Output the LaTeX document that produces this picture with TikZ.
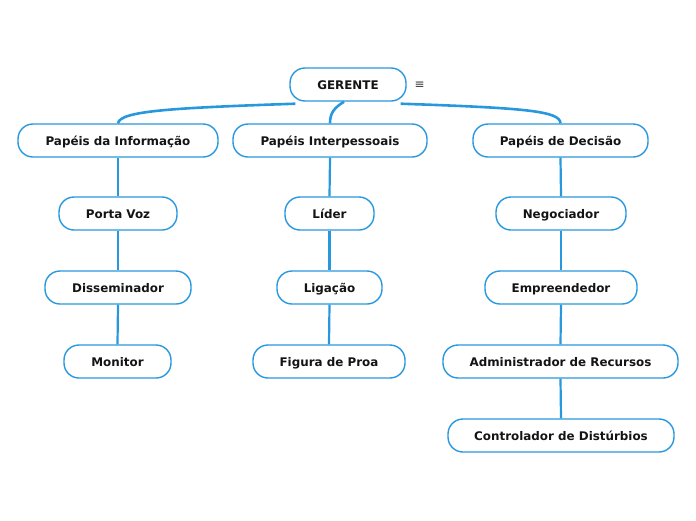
\documentclass[tikz,border=0pt]{standalone}
\usepackage{fontspec}
\setmainfont{DejaVu Sans}
\definecolor{mapblue}{RGB}{40,152,222}
\definecolor{inkcol}{RGB}{20,20,20}
\tikzset{
  topic/.style={draw=mapblue, line width=1.4pt, rounded corners=15pt,
    minimum height=33pt, inner sep=0pt, text=inkcol,
    text height=10pt, text depth=0pt,
    font=\fontsize{11.9}{14}\selectfont\bfseries},
  link/.style={mapblue, line width=2.2pt},
  trunk/.style={mapblue, line width=2.6pt}
}

\begin{document}
\begin{tikzpicture}[x=1pt, y=-1pt]

  \useasboundingbox (0,0) rectangle (696,520);

  % --- central topic ------------------------------------------------------
  \node[topic, minimum width=116pt] (gerente) at (348,84.5) {GERENTE};
  \node[text=inkcol!85, font=\fontsize{12}{14}\selectfont, anchor=west] (menu) at (411,85.5) {≡};

  % --- main branches ------------------------------------------------------
  \node[topic, minimum width=200pt] (info)   at (118,140.5) {Papéis da Informação};
  \node[topic, minimum width=194pt] (inter)  at (330,140.5) {Papéis Interpessoais};
  \node[topic, minimum width=175pt] (decis)  at (560.5,140.5) {Papéis de Decisão};

  % --- papéis da informação ----------------------------------------------
  \node[topic, minimum width=118pt] (porta)  at (118,213.5) {Porta Voz};
  \node[topic, minimum width=146pt] (dissem) at (118,287.5) {Disseminador};
  \node[topic, minimum width=107pt] (monit)  at (117.5,361.5) {Monitor};

  % --- papéis interpessoais ----------------------------------------------
  \node[topic, minimum width=89pt]  (lider)  at (329.5,213.5) {Líder};
  \node[topic, minimum width=105pt] (ligac)  at (329.5,287.5) {Ligação};
  \node[topic, minimum width=152pt] (figura) at (329,361.5) {Figura de Proa};

  % --- papéis de decisão -------------------------------------------------
  \node[topic, minimum width=130pt] (negoc)  at (561,213.5) {Negociador};
  \node[topic, minimum width=152pt] (empre)  at (561,287.5) {Empreendedor};
  \node[topic, minimum width=235pt] (admin)  at (560.5,361.5) {Administrador de Recursos};
  \node[topic, minimum width=226pt] (contr)  at (561,435.5) {Controlador de Distúrbios};

  % --- curved links from the central topic -------------------------------
  \draw[trunk] ([xshift=6pt,yshift=-2pt]gerente.south west)
    .. controls (170,108) and (120,111) .. (info.north);
  \draw[trunk] ([xshift=-4pt]gerente.south)
    .. controls (334,108) and (330,113) .. (inter.north);
  \draw[trunk] ([xshift=-6pt,yshift=-2pt]gerente.south east)
    .. controls (526,108) and (560,111) .. (decis.north);

  % --- straight links down each branch -----------------------------------
  \foreach \a/\b in {info/porta, porta/dissem, dissem/monit,
                     inter/lider, lider/ligac, ligac/figura,
                     decis/negoc, negoc/empre, empre/admin, admin/contr}
    \draw[link] (\a.south) -- (\b.north);

\end{tikzpicture}
\end{document}
